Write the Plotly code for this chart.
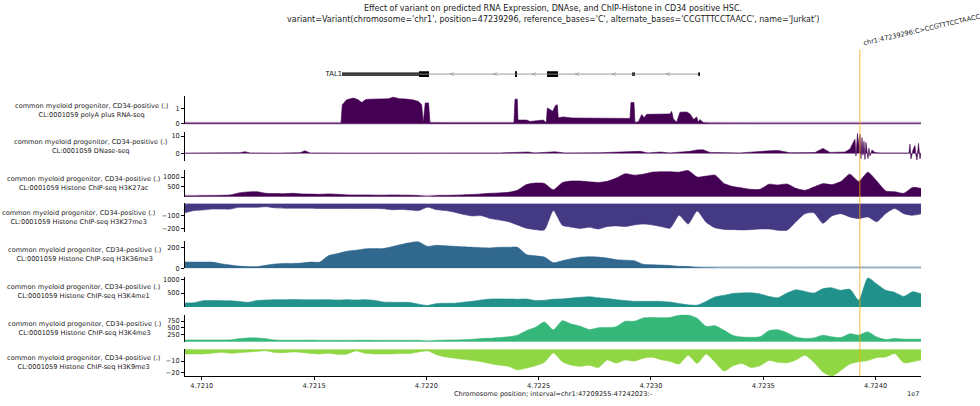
import plotly.graph_objects as go
from plotly.subplots import make_subplots

FONT = "DejaVu Sans"

INTERVAL_START = 47209255
INTERVAL_END = 47242023
VARIANT_POS = 47239296
VARIANT_LABEL = "chr1:47239296:C>CCGTTTCCTAACC"

TITLE_LINES = [
    "Effect of variant on predicted RNA Expression, DNAse, and ChIP-Histone in CD34 positive HSC.",
    "variant=Variant(chromosome='chr1', position=47239296, reference_bases='C', "
    "alternate_bases='CCGTTTCCTAACC', name='Jurkat')",
]
X_TITLE = "Chromosome position; interval=chr1:47209255-47242023:-"

X_TICKS = [47210000, 47215000, 47220000, 47225000, 47230000, 47235000, 47240000]
X_TICK_LABELS = ["4.7210", "4.7215", "4.7220", "4.7225", "4.7230", "4.7235", "4.7240"]

# gene model (minus strand)
GENE_NAME = "TAL1"
EXON_STARTS = [47216245, 47219673, 47223955, 47225373, 47229157, 47232095]
EXON_ENDS = [47219673, 47220119, 47224025, 47225862, 47229290, 47232140]
EXON_IS_CDS = [False, True, True, True, False, False]
STRAND_ARROWS = [47221142, 47223056, 47224792, 47226707, 47228354, 47230758]

# RNA-seq coverage (breakpoints)
RNA_POS = [
    47209255, 47211000, 47213000, 47215000, 47216200, 47216258, 47216454, 47216748,
    47216950, 47217122, 47217300, 47217491, 47218000, 47218300, 47218529, 47218800,
    47219100, 47219419, 47219650, 47219793, 47219864, 47219950, 47220100, 47220162,
    47221000, 47222000, 47223000, 47223900, 47223947, 47224049, 47224080, 47224467,
    47224614, 47225000, 47225207, 47225340, 47225385, 47225500, 47225625, 47225750,
    47225830, 47225874, 47226097, 47226500, 47227000, 47227500, 47228000, 47228500,
    47229000, 47229066, 47229111, 47229244, 47229289, 47229450, 47229587, 47229700,
    47229810, 47230200, 47230500, 47230847, 47230923, 47230994, 47231146, 47231292,
    47231600, 47231738, 47231900, 47232036, 47232107, 47232183, 47232330, 47232628,
    47235000, 47238000, 47242023,
]
RNA_VAL = [
    0.03, 0.04, 0.03, 0.04, 0.03, 1.26, 1.59, 1.70,
    1.60, 1.41, 1.60, 1.63, 1.62, 1.65, 1.76, 1.66,
    1.64, 1.58, 1.48, 1.26, 0.06, 1.37, 1.38, 0.06,
    0.05, 0.05, 0.05, 0.05, 1.63, 1.63, 0.24, 0.24,
    0.15, 0.24, 0.24, 0.06, 1.04, 0.95, 0.82, 1.20,
    1.26, 0.39, 0.45, 0.38, 0.37, 0.38, 0.37, 0.38,
    0.35, 0.35, 1.41, 1.41, 0.06, 0.15, 0.61, 0.40,
    0.62, 0.65, 0.63, 0.65, 0.82, 0.33, 0.10, 0.76,
    0.78, 0.65, 0.28, 0.45, 0.10, 0.28, 0.06, 0.03,
    0.02, 0.02, 0.02,
]

# DNase-seq signal (breakpoints)
DNASE_POS = [
    47209255, 47210368, 47211703, 47211926, 47212149, 47213484, 47214375, 47214597,
    47214820, 47216601, 47218827, 47221053, 47223279, 47224525, 47224837, 47225727,
    47226173, 47227731, 47229512, 47229868, 47230402, 47230847, 47231737, 47232049,
    47232316, 47232628, 47233963, 47235299, 47235655, 47236189, 47237302, 47237659,
    47237970, 47238638, 47238861, 47238994, 47239084, 47239128, 47239195, 47239262,
    47239306, 47239351, 47239395, 47239440, 47239484, 47239529, 47239573, 47239662,
    47239707, 47239751, 47239840, 47239974, 47240197, 47241087, 47241310, 47241488,
    47241533, 47241577, 47241666, 47241755, 47241800, 47241844, 47241911, 47241978,
    47242023,
]
DNASE_VAL = [
    0.2, 0.3, 0.4, 1.0, 0.3, 0.2, 0.4, 1.5,
    0.3, 0.2, 0.3, 0.2, 0.3, 0.8, 0.3, 0.9,
    0.3, 0.4, 1.2, 0.3, 0.8, 0.3, 1.2, 2.0,
    2.1, 0.6, 0.3, 1.5, 1.7, 0.4, 0.5, 2.9,
    0.6, 0.8, 2.5, 6.0, 8.1, -1.5, 11.5, 4.0,
    11.0, -3.0, 9.1, -1.0, 7.0, -3.5, 6.3, -3.0,
    3.0, -1.5, 2.0, 0.5, 0.3, 0.3, 0.5, 0.3,
    5.3, -3.2, 2.0, 4.5, -1.0, -3.8, 5.8, -3.2,
    0.5,
]

# Histone ChIP-seq, 400 bp bins from INTERVAL_START
BIN_SIZE = 400
H3K27AC = [
    40, 40, 50, 60, 70, 90, 200, 250, 260, 180,
    170, 160, 180, 150, 140, 130, 150, 130, 100, 90,
    90, 85, 80, 90, 85, 80, 60, 10, 60, 70,
    80, 100, 120, 150, 180, 200, 230, 330, 620, 700,
    680, 360, 720, 800, 800, 760, 730, 790, 950, 1170,
    1100, 1150, 1250, 1270, 1270, 1250, 1330, 1000, 1050, 1100,
    680, 520, 450, 380, 380, 640, 600, 650, 430, 330,
    500, 670, 620, 780, 1150, 780, 1250, 800, 300, 260,
    180, 480, 420,
]
H3K27ME3 = [
    -75, -57, -52, -45, -45, -45, -31, -31, -30, -26,
    -35, -38, -38, -38, -38, -40, -40, -40, -40, -40,
    -40, -40, -42, -50, -48, -52, -57, -30, -50, -57,
    -70, -88, -100, -98, -121, -133, -146, -172, -198, -210,
    -212, -57, -175, -190, -200, -190, -205, -185, -180, -185,
    -172, -165, -172, -185, -198, -95, -165, -60, -150, -195,
    -208, -210, -212, -210, -205, -205, -215, -215, -146, -82,
    -75, -159, -100, -82, -108, -121, -108, -146, -80, -40,
    -82, -95, -82,
]
H3K36ME3 = [
    61, 61, 61, 61, 45, 33, 22, 16, 16, 30,
    42, 48, 48, 52, 61, 61, 125, 145, 167, 177,
    190, 193, 193, 210, 232, 250, 258, 215, 225, 220,
    215, 210, 206, 202, 200, 206, 206, 206, 135, 122,
    110, 55, 75, 95, 109, 113, 110, 100, 85, 80,
    75, 40, 35, 32, 28, 20, 18, 8, 5, 4,
    3, 4, 3, 3, 4, 3, 3, 4, 3, 3,
    4, 3, 3, 3, 4, 3, 3, 3, 4, 3,
    3, 3, 3,
]
H3K4ME1 = [
    143, 150, 226, 230, 226, 220, 200, 167, 230, 250,
    262, 262, 270, 262, 255, 262, 262, 250, 262, 250,
    262, 240, 180, 167, 165, 160, 100, 50, 120, 132,
    132, 170, 202, 250, 286, 290, 286, 280, 286, 230,
    240, 280, 290, 320, 346, 370, 330, 300, 262, 230,
    202, 202, 202, 200, 175, 120, 75, 61, 200, 360,
    420, 489, 505, 510, 470, 380, 330, 500, 620, 560,
    500, 660, 690, 600, 640, 240, 1050, 830, 600, 524,
    380, 550, 465,
]
H3K4ME3 = [
    60, 60, 60, 60, 60, 65, 110, 135, 140, 110,
    60, 50, 48, 50, 55, 48, 48, 45, 48, 48,
    50, 48, 45, 48, 45, 48, 45, 20, 45, 55,
    60, 70, 90, 119, 125, 150, 180, 238, 400, 520,
    714, 430, 760, 640, 560, 440, 505, 511, 545, 740,
    740, 860, 880, 870, 880, 960, 970, 850, 560, 580,
    416, 230, 170, 160, 178, 400, 430, 330, 170, 119,
    140, 238, 180, 150, 290, 240, 357, 170, 80, 119,
    95, 95, 95,
]
H3K9ME3 = [
    -3.9, -3.9, -3.9, -3.3, -2.5, -3.3, -2.8, -2.3, -1.7, -1.1,
    -2.6, -2.8, -2.2, -2.6, -3.5, -3.9, -3.3, -4.3, -4.0, -1.3,
    -3.3, -3.9, -3.9, -3.9, -3.6, -3.5, -2.2, -1.2, -4.5, -6.5,
    -7.5, -8.5, -9.5, -10.5, -12.2, -13.5, -14.5, -17.5, -16, -14,
    -11, -3, -10.5, -13.5, -14.5, -13.5, -15.5, -9, -11.7, -9,
    -10, -7.5, -6.7, -8.9, -10.3, -12.5, -5, -12, -4, -11,
    -18.5, -14, -12, -15.5, -14, -9.5, -11, -11.5, -9, -5,
    -11, -19.4, -22.8, -18, -12.5, -10.5, -9.5, -7, -6.5, -3.5,
    -11.5, -10.5, -9,
]

BIN_POS = [INTERVAL_START + i * BIN_SIZE for i in range(len(H3K27AC))]

CELL = "common myeloid progenitor, CD34-positive (.)"
ASSAYS = [
    "CL:0001059 polyA plus RNA-seq",
    "CL:0001059 DNase-seq",
    "CL:0001059 Histone ChIP-seq H3K27ac",
    "CL:0001059 Histone ChIP-seq H3K27me3",
    "CL:0001059 Histone ChIP-seq H3K36me3",
    "CL:0001059 Histone ChIP-seq H3K4me1",
    "CL:0001059 Histone ChIP-seq H3K4me3",
    "CL:0001059 Histone ChIP-seq H3K9me3",
]

# (x, y, color, y range, y ticks, panel top/bottom px, label right edge px, shape)
tracks = [
    (RNA_POS, RNA_VAL, "#440154", [-0.05, 1.85], [0, 1], (96, 125), 170, "linear"),
    (DNASE_POS, DNASE_VAL, "#440154", [-4.2, 12.3], [0, 10], (132.7, 161.7), 169, "linear"),
    (BIN_POS, H3K27AC, "#440154", [0, 1380], [500, 1000], (170.7, 198.3), 162, "spline"),
    (BIN_POS, H3K27ME3, "#443983", [-230, 0], [-200, -100], (205, 234), 157, "spline"),
    (BIN_POS, H3K36ME3, "#31688e", [0, 270], [0, 200], (242.7, 270.7), 163, "spline"),
    (BIN_POS, H3K4ME1, "#21918c", [0, 1090], [500, 1000], (279.3, 309.7), 162, "spline"),
    (BIN_POS, H3K4ME3, "#35b779", [0, 975], [250, 500, 750], (317.7, 345), 163, "spline"),
    (BIN_POS, H3K9ME3, "#90d743", [-23, 0], [-20, -10], (352.7, 380), 162, "spline"),
]

W, H = 980, 406
LEFT, RIGHT = 185, 921
LABEL_SIZE = 6.6
TITLE_SIZE = 8
TEXT = "#1a1a1a"


def py(px):
    return 1 - px / H


def px_x(px):
    return (px - LEFT) / (RIGHT - LEFT)


def rgba(hex_color, alpha):
    h = hex_color.lstrip("#")
    r, g, b = int(h[0:2], 16), int(h[2:4], 16), int(h[4:6], 16)
    return f"rgba({r},{g},{b},{alpha})"


fig = make_subplots(rows=9, cols=1, shared_xaxes=True, vertical_spacing=0.0)

# gene track
fig.add_trace(
    go.Scatter(
        x=[EXON_STARTS[0], EXON_ENDS[-1]], y=[0, 0], mode="lines",
        line=dict(color="#8c8c8c", width=0.9), hoverinfo="skip",
    ),
    row=1, col=1,
)
fig.add_trace(
    go.Scatter(
        x=STRAND_ARROWS, y=[0] * len(STRAND_ARROWS), mode="text",
        text=["<"] * len(STRAND_ARROWS),
        textfont=dict(family=FONT, size=6.5, color="#8c8c8c"), hoverinfo="skip",
    ),
    row=1, col=1,
)
fig.add_trace(
    go.Bar(
        orientation="h",
        base=EXON_STARTS,
        x=[e - s for s, e in zip(EXON_STARTS, EXON_ENDS)],
        y=[0] * len(EXON_STARTS),
        width=[0.32 if cds else 0.19 for cds in EXON_IS_CDS],
        marker=dict(color="black", line=dict(width=0)),
        hoverinfo="skip",
    ),
    row=1, col=1,
)
fig.add_trace(
    go.Scatter(
        x=[EXON_STARTS[0]], y=[0], mode="text", text=[GENE_NAME],
        textposition="middle left",
        textfont=dict(family=FONT, size=6.8, color=TEXT), hoverinfo="skip",
    ),
    row=1, col=1,
)
fig.update_yaxes(range=[-1, 1], domain=[py(92), py(56)], visible=False, row=1, col=1)
fig.update_xaxes(visible=False, row=1, col=1)

annotations = []
for k, (xs, ys, color, yrange, yticks, (top, bottom), lab_right, shape) in enumerate(tracks):
    row = k + 2
    fig.add_trace(
        go.Scatter(
            x=xs, y=ys, mode="lines", fill="tozeroy",
            line=dict(color=color, width=0.6, shape=shape, smoothing=0.6),
            fillcolor=color, hoverinfo="skip",
        ),
        row=row, col=1,
    )
    if k != 1:
        # faint baseline at zero
        fig.add_trace(
            go.Scatter(
                x=[INTERVAL_START, INTERVAL_END], y=[0, 0], mode="lines",
                line=dict(color=rgba(color, 0.35), width=4), hoverinfo="skip",
            ),
            row=row, col=1,
        )
    fig.update_yaxes(
        range=yrange, domain=[py(bottom), py(top)], tickvals=yticks,
        showline=True, linecolor="black", linewidth=0.8,
        ticks="outside", ticklen=3, tickwidth=0.8, tickcolor="black",
        tickfont=dict(family=FONT, size=LABEL_SIZE, color=TEXT),
        showgrid=False, zeroline=False,
        row=row, col=1,
    )
    annotations.append(dict(
        text=f"{CELL}<br>{ASSAYS[k]}", xref="paper", yref="paper",
        x=px_x(lab_right), y=py((top + bottom) / 2),
        xanchor="right", yanchor="middle", align="center", showarrow=False,
        font=dict(family=FONT, size=LABEL_SIZE, color=TEXT),
    ))
    if row < 9:
        fig.update_xaxes(visible=False, row=row, col=1)

fig.update_xaxes(
    range=[INTERVAL_START, INTERVAL_END],
    tickvals=X_TICKS, ticktext=X_TICK_LABELS,
    showline=True, linecolor="black", linewidth=0.8,
    ticks="outside", ticklen=3, tickwidth=0.8, tickcolor="black",
    tickfont=dict(family=FONT, size=LABEL_SIZE, color=TEXT),
    showgrid=False, zeroline=False,
    row=9, col=1,
)

# variant marker
fig.add_shape(
    type="line", xref="x9", yref="paper",
    x0=VARIANT_POS, x1=VARIANT_POS, y0=py(380), y1=py(49),
    line=dict(color="rgba(255,165,0,0.55)", width=1.4), layer="above",
)
annotations.append(dict(
    text=VARIANT_LABEL, xref="x9", yref="paper", x=VARIANT_POS, y=py(49),
    xanchor="left", yanchor="bottom", textangle=-13, showarrow=False,
    font=dict(family=FONT, size=LABEL_SIZE, color=TEXT),
))

# title and axis labels
for text, ypx in zip(TITLE_LINES, [8, 19]):
    annotations.append(dict(
        text=text, xref="paper", yref="paper", x=0.5, y=py(ypx),
        xanchor="center", yanchor="middle", showarrow=False,
        font=dict(family=FONT, size=TITLE_SIZE, color=TEXT),
    ))
annotations.append(dict(
    text=X_TITLE, xref="paper", yref="paper", x=0.5, y=py(398),
    xanchor="center", yanchor="middle", showarrow=False,
    font=dict(family=FONT, size=LABEL_SIZE, color=TEXT),
))
annotations.append(dict(
    text="1e7", xref="paper", yref="paper", x=1, y=py(398),
    xanchor="right", yanchor="middle", showarrow=False,
    font=dict(family=FONT, size=LABEL_SIZE, color=TEXT),
))

fig.update_layout(
    width=W, height=H,
    margin=dict(l=LEFT, r=W - RIGHT, t=0, b=0),
    plot_bgcolor="white", paper_bgcolor="white",
    showlegend=False, annotations=annotations,
    font=dict(family=FONT, color=TEXT),
)

fig.write_html(
    "out.html",
    config={"displayModeBar": False},
    post_script="document.body.style.margin='0';document.body.style.overflow='hidden';",
)
